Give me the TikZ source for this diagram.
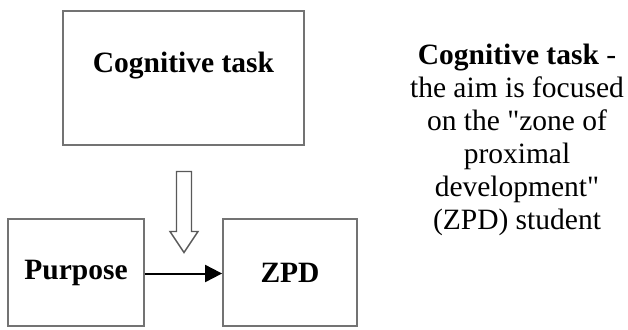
\documentclass[tikz,border=0pt]{standalone}
\usepackage{fontspec}
\setmainfont{Liberation Serif}
\newfontfamily\plainserif{Liberation Serif}
\usetikzlibrary{arrows.meta,calc}
\newcommand{\sq}{{\plainserif"}}
\begin{document}
\begin{tikzpicture}[x=1pt,y=-1pt,
  box/.style={draw=black!55,line width=1.8pt,rectangle,inner sep=0pt},
  boldtxt/.style={font=\fontsize{29.5}{33}\selectfont\bfseries},
  conn/.style={line width=2pt,-{Triangle[length=17pt,width=17pt]}}]
\useasboundingbox (0,0) rectangle (628,329);
\node[box,minimum width=241pt,minimum height=134pt] (ct) at (183.5,78) {};
\node[boldtxt] (ctl) at (183.5,66) {Cognitive task};
\node[box,minimum width=136pt,minimum height=107pt] (pur) at (76,272.5) {};
\node[boldtxt] (purl) at (pur.center) {Purpose};
\node[box,minimum width=134pt,minimum height=107pt] (zpd) at (290,272.5) {};
\node[boldtxt] (zpdl) at (zpd.center) {ZPD};
\draw[conn] (pur.east |- 0,273.5) -- (zpd.west |- 0,273.5);
\coordinate (ha) at (184,171.5);
\draw[draw=black!65,line width=1.4pt,line join=miter]
  ($(ha)+(-7.5,0)$) -- ($(ha)+(7.5,0)$) -- ($(ha)+(7.5,60)$) -- ($(ha)+(14,60)$)
  -- ($(ha)+(0,81)$) -- ($(ha)+(-14,60)$) -- ($(ha)+(-7.5,60)$) -- cycle;
\node[align=center,font=\fontsize{29.5}{33}\selectfont] (desc) at (517,140)
  {\textbf{Cognitive task} -\\the aim is focused\\on the \sq zone of\\proximal\\development\sq\\(ZPD) student};
\end{tikzpicture}
\end{document}
